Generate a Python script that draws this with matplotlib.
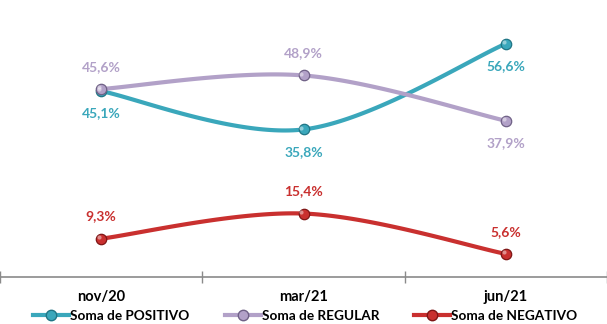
import numpy as np
import matplotlib.pyplot as plt
from matplotlib.lines import Line2D

plt.rcParams["font.family"] = ["Lato", "DejaVu Sans"]

periodos = ["nov/20", "mar/21", "jun/21"]
positivo = [45.1, 35.8, 56.6]
regular = [45.6, 48.9, 37.9]
negativo = [9.3, 15.4, 5.6]

series = [
    ("Soma de POSITIVO", positivo, "#3aa7bb", "#1f7585", [-1, -1, -1]),
    ("Soma de REGULAR", regular, "#b2a1c8", "#6f6186", [1, 1, -1]),
    ("Soma de NEGATIVO", negativo, "#c9302f", "#7e1515", [1, 1, 1]),
]


def curva_suave(x, y, n=60):
    # bezier tipo Catmull-Rom, como a linha suavizada do Excel
    x = np.asarray(x, float)
    y = np.asarray(y, float)
    px = np.concatenate([[x[0]], x, [x[-1]]])
    py = np.concatenate([[y[0]], y, [y[-1]]])
    xs, ys = [], []
    t = np.linspace(0, 1, n)
    for i in range(1, len(px) - 2):
        p0 = np.array([px[i], py[i]])
        p3 = np.array([px[i + 1], py[i + 1]])
        p1 = p0 + (np.array([px[i + 1], py[i + 1]]) - np.array([px[i - 1], py[i - 1]])) / 6
        p2 = p3 - (np.array([px[i + 2], py[i + 2]]) - np.array([px[i], py[i]])) / 6
        b = ((1 - t) ** 3)[:, None] * p0 + (3 * (1 - t) ** 2 * t)[:, None] * p1 \
            + (3 * (1 - t) * t ** 2)[:, None] * p2 + (t ** 3)[:, None] * p3
        xs.append(b[:, 0])
        ys.append(b[:, 1])
    return np.concatenate(xs), np.concatenate(ys)


fig = plt.figure(figsize=(6.07, 3.24), dpi=100)
ax = fig.add_axes([0, 0.145, 1, 0.827])

x = np.arange(len(periodos)) + 0.5
handles = []
for nome, valores, cor, borda, lado in series:
    cx, cy = curva_suave(x, valores)
    ax.plot(cx, cy, color=cor, lw=3.0, solid_capstyle="round", zorder=2)
    ax.plot(x, valores, "o", ms=7.5, mfc=cor, mec=borda, mew=0.9, zorder=3)
    ax.plot(x - 0.01, np.array(valores) + 0.4, "o", ms=3, mfc="white",
            mec="none", alpha=0.45, zorder=4)
    for xi, v, s in zip(x, valores, lado):
        ax.annotate(f"{v:.1f}%".replace(".", ","), (xi, v),
                    xytext=(0, 16 * s), textcoords="offset points",
                    ha="center", va="center", color=cor,
                    fontsize=10, fontweight="bold")
    handles.append(Line2D([], [], color=cor, lw=3.0, marker="o", ms=7.5,
                          mfc=cor, mec=borda, label=nome))

ax.set_xlim(0, 3)
ax.set_ylim(0, 65)
ax.set_yticks([])
ax.set_xticks([0, 1, 2, 3])
ax.set_xticklabels([])
ax.tick_params(axis="x", direction="inout", length=8, color="#8a8a8a", width=1)
for xi, p in zip(x, periodos):
    ax.text(xi, -0.073, p, transform=ax.get_xaxis_transform(), ha="center",
            va="center", fontsize=10.5, fontweight="bold")
for s in ["top", "left", "right"]:
    ax.spines[s].set_visible(False)
ax.spines["bottom"].set_color("#8a8a8a")
ax.spines["bottom"].set_linewidth(1.2)

fig.legend(handles=handles, loc="center", bbox_to_anchor=(0.503, 0.026), ncol=3,
           frameon=False, handlelength=2.65, handletextpad=0.05, columnspacing=2.6,
           prop={"weight": "bold", "size": 9.8})

fig.savefig("out.png", dpi=100)
